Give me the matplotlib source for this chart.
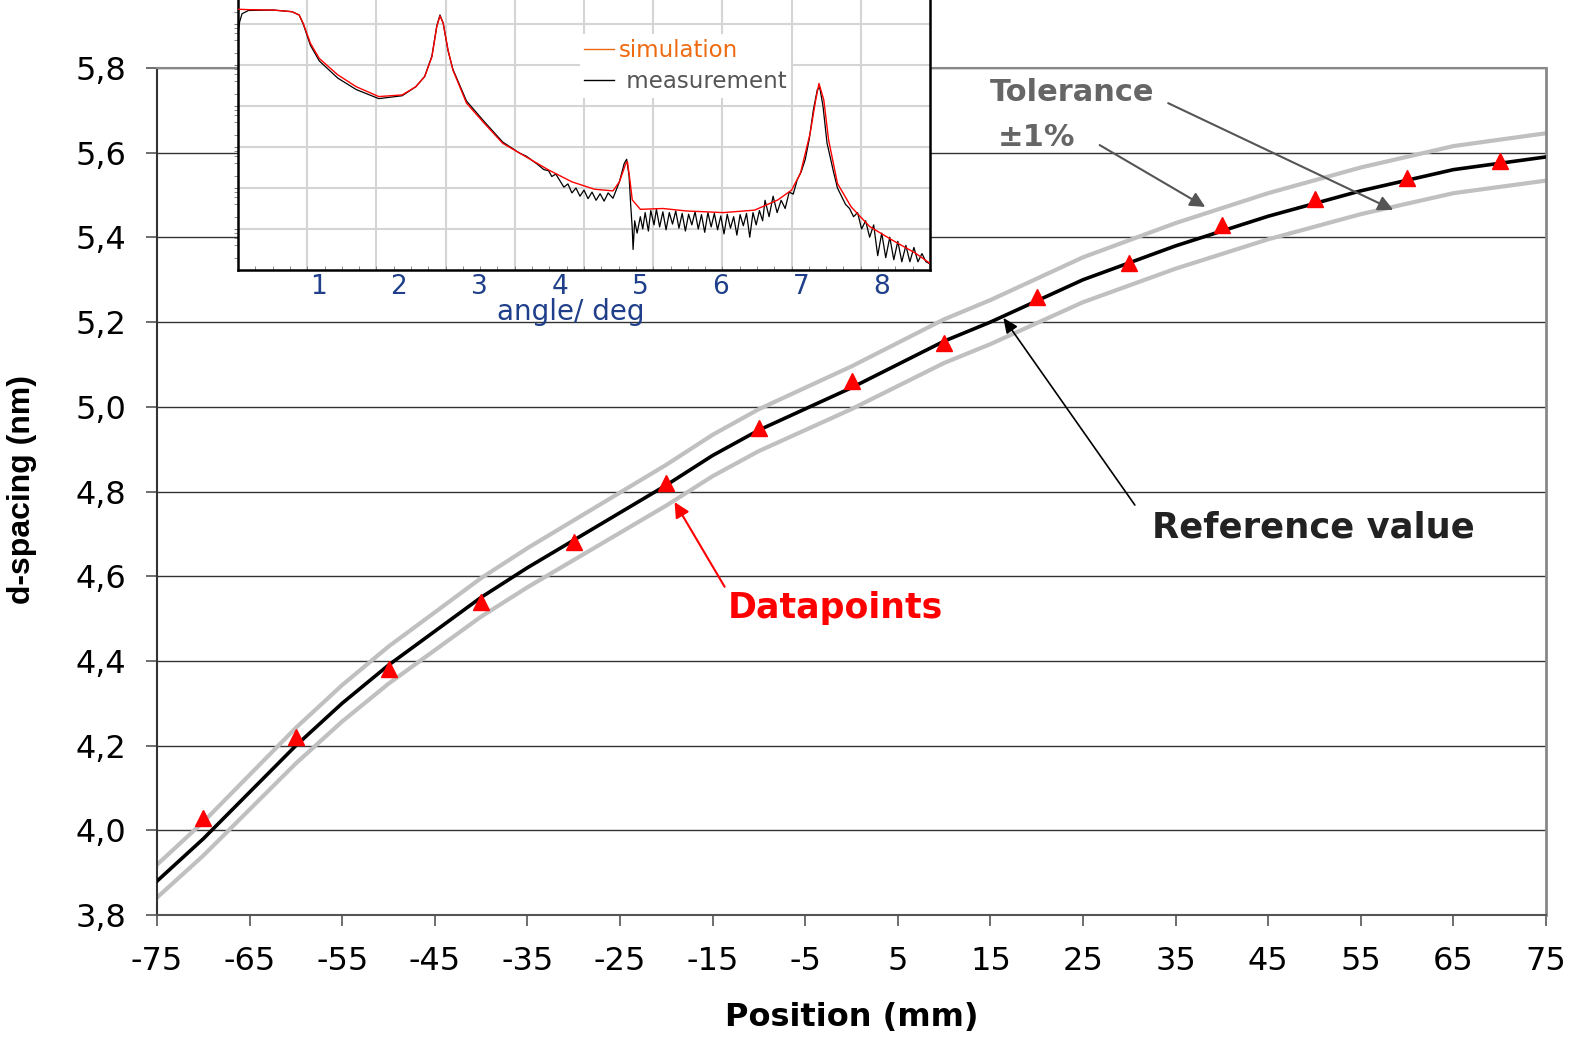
"""
    d-spacing along the mirror position with an inset of the reflectivity scan
"""

import numpy as np
import matplotlib
matplotlib.use("Agg")
from matplotlib import pyplot as plt

plt.rcParams["axes.unicode_minus"] = False

# reference d-spacing (black line), every 5 mm
ref_pos = [-75, -70, -65, -60, -55, -50, -45, -40, -35, -30, -25, -20, -15,
           -10, -5, 0, 5, 10, 15, 20, 25, 30, 35, 40, 45, 50, 55, 60, 65, 70, 75]
ref_d = [3.88, 3.98, 4.09, 4.20, 4.30, 4.39, 4.47, 4.55, 4.62, 4.685, 4.75,
         4.815, 4.885, 4.945, 4.995, 5.045, 5.10, 5.155, 5.20, 5.25, 5.30,
         5.34, 5.38, 5.415, 5.45, 5.48, 5.51, 5.535, 5.56, 5.575, 5.59]
tolerance = 0.01

# measured datapoints (red triangles)
meas_pos = [-70, -60, -50, -40, -30, -20, -10, 0, 10, 20, 30, 40, 50, 60, 70]
meas_d = [4.03, 4.22, 4.38, 4.54, 4.68, 4.82, 4.95, 5.06, 5.15, 5.26, 5.34,
          5.43, 5.49, 5.54, 5.58]

# inset: simulated reflectivity curve (in grid units)
sim_angle = [0.0, 0.13, 0.44, 0.67, 0.76, 0.81, 0.90, 1.01, 1.24, 1.47, 1.75,
             2.04, 2.21, 2.32, 2.41, 2.47, 2.51, 2.55, 2.61, 2.67, 2.84, 3.06,
             3.29, 3.58, 3.86, 4.15, 4.43, 4.66, 4.74, 4.82, 4.84, 4.87, 4.90,
             5.00, 5.28, 5.57, 6.03, 6.42, 6.71, 6.88, 6.99, 7.11, 7.18, 7.22,
             7.28, 7.34, 7.45, 7.62, 7.85, 8.13, 8.42, 8.60]
sim_int = [6.36, 6.35, 6.34, 6.30, 6.22, 6.02, 5.53, 5.16, 4.76, 4.47, 4.23,
           4.27, 4.47, 4.72, 5.20, 5.93, 6.20, 6.02, 5.37, 4.88, 4.07, 3.58,
           3.09, 2.76, 2.44, 2.15, 1.97, 1.93, 2.15, 2.60, 2.64, 2.20, 1.71,
           1.48, 1.50, 1.44, 1.40, 1.46, 1.71, 1.95, 2.36, 3.33, 4.15, 4.55,
           4.15, 3.17, 2.11, 1.54, 1.06, 0.73, 0.41, 0.16]

# inset: measured reflectivity curve (in grid units)
exp_angle = [0.0, 0.02, 0.05, 0.13, 0.44, 0.67, 0.76, 0.81, 0.90, 1.01, 1.24,
             1.47, 1.75, 2.04, 2.21, 2.32, 2.41, 2.47, 2.51, 2.55, 2.61, 2.67,
             2.84, 3.06, 3.29, 3.40, 3.50, 3.58, 3.65, 3.72, 3.80, 3.86, 3.90,
             3.95, 4.00, 4.05, 4.10, 4.15, 4.20, 4.25, 4.30, 4.35, 4.40, 4.45,
             4.50, 4.55, 4.60, 4.66, 4.70, 4.74, 4.80, 4.83, 4.86, 4.88, 4.90,
             4.91, 4.93, 4.96, 5.00, 5.03, 5.06, 5.10, 5.13, 5.17, 5.20, 5.24,
             5.28, 5.32, 5.36, 5.40, 5.44, 5.48, 5.52, 5.56, 5.60, 5.64, 5.68,
             5.72, 5.76, 5.80, 5.84, 5.88, 5.92, 5.96, 6.00, 6.04, 6.08, 6.12,
             6.16, 6.20, 6.24, 6.28, 6.32, 6.36, 6.40, 6.44, 6.48, 6.52, 6.55,
             6.60, 6.65, 6.70, 6.75, 6.80, 6.85, 6.90, 6.95, 7.00, 7.05, 7.10,
             7.15, 7.20, 7.23, 7.27, 7.32, 7.40, 7.45, 7.50, 7.55, 7.60, 7.65,
             7.70, 7.75, 7.80, 7.85, 7.90, 7.95, 8.00, 8.05, 8.10, 8.15, 8.20,
             8.25, 8.30, 8.35, 8.40, 8.45, 8.50, 8.55, 8.60]
exp_int = [5.75, 6.05, 6.25, 6.33, 6.34, 6.30, 6.22, 6.00, 5.48, 5.10, 4.68,
           4.40, 4.18, 4.25, 4.47, 4.72, 5.22, 5.95, 6.22, 6.02, 5.35, 4.90,
           4.12, 3.62, 3.12, 2.98, 2.85, 2.78, 2.68, 2.58, 2.45, 2.42, 2.28,
           2.34, 2.18, 2.02, 2.10, 1.88, 2.00, 1.80, 1.95, 1.74, 1.90, 1.70,
           1.86, 1.68, 1.88, 1.75, 1.95, 2.15, 2.60, 2.70, 2.30, 1.60, 1.00,
           0.50, 1.20, 0.90, 1.30, 1.00, 1.40, 0.95, 1.45, 1.10, 1.48, 1.05,
           1.42, 0.98, 1.40, 1.12, 1.44, 1.02, 1.38, 0.95, 1.36, 1.10, 1.42,
           1.00, 1.35, 0.92, 1.40, 1.05, 1.38, 0.98, 1.32, 0.88, 1.36, 1.02,
           1.30, 0.85, 1.35, 1.08, 1.38, 0.80, 1.40, 1.10, 1.45, 1.20, 1.70,
           1.30, 1.80, 1.40, 1.70, 1.50, 1.90, 1.85, 2.20, 2.40, 2.70, 3.20,
           3.90, 4.40, 4.45, 4.00, 3.10, 2.40, 2.00, 1.80, 1.60, 1.50, 1.30,
           1.40, 1.00, 1.20, 0.80, 1.10, 0.35, 0.90, 0.30, 0.80, 0.25, 0.70,
           0.20, 0.60, 0.20, 0.55, 0.20, 0.40, 0.20, 0.15]

inset_ticks = [1, 2, 3, 4, 5, 6, 7, 8]

W, H = 1574, 1040
fig = plt.figure(figsize=(W/100, H/100), dpi=100)

# ---- main plot
ax = fig.add_axes([157/W, 1 - 915/H, 1389/W, 847/H])
ref = np.array(ref_d)
ax.plot(ref_pos, ref*(1 + tolerance), color="#c0c0c0", lw=3, zorder=2)
ax.plot(ref_pos, ref*(1 - tolerance), color="#c0c0c0", lw=3, zorder=2)
ax.plot(ref_pos, ref, color="black", lw=2.6, zorder=3)
ax.plot(meas_pos, meas_d, ls="none", marker="^", ms=11, color="red",
        markeredgecolor="red", zorder=4)

ax.set_xlim(-75, 75)
ax.set_ylim(3.8, 5.8)
ax.set_xticks(np.arange(-75, 76, 10))
yt = np.arange(3.8, 5.81, 0.2)
ax.set_yticks(yt)
ax.set_yticklabels([("%.1f" % v).replace(".", ",") for v in yt])
ax.yaxis.grid(True, color="#333333", lw=1)
ax.set_axisbelow(True)
ax.tick_params(axis="both", labelsize=23, direction="out", length=8,
               width=1.2, color="#555555", pad=14)
ax.spines["left"].set_color("#333333")
ax.spines["left"].set_linewidth(1.5)
ax.spines["bottom"].set_color("#555555")
ax.spines["bottom"].set_linewidth(1.5)
ax.spines["top"].set_color("#888888")
ax.spines["top"].set_linewidth(1.5)
ax.spines["right"].set_color("#888888")
ax.spines["right"].set_linewidth(2)

ax.set_xlabel("Position (mm)", fontsize=23, fontweight="bold", labelpad=18)
fig.text(22/W, 1 - 490/H, "d-spacing (nm)", rotation=90, fontsize=23,
         fontweight="bold", family=["Liberation Sans", "DejaVu Sans"],
         ha="center", va="center")

# annotations
ax.text(14.9, 5.743, "Tolerance", fontsize=22, fontweight="bold",
        color="#666666", ha="left", va="center")
ax.text(15.8, 5.637, "\u00b11%", fontsize=22, fontweight="bold",
        color="#666666", ha="left", va="center")
arr_grey = dict(arrowstyle="-|>,head_length=0.9,head_width=0.45",
                color="#555555", lw=1.5, shrinkA=0, shrinkB=0)
ax.annotate("", xy=(38.2, 5.472), xytext=(26.8, 5.618), arrowprops=arr_grey)
ax.annotate("", xy=(58.5, 5.465), xytext=(34.2, 5.717), arrowprops=arr_grey)

ax.text(32.4, 4.716, "Reference value", fontsize=25.5, fontweight="bold",
        color="#222222", ha="left", va="center")
ax.annotate("", xy=(16.4, 5.21), xytext=(30.6, 4.768),
            arrowprops=dict(arrowstyle="-|>,head_length=0.9,head_width=0.4",
                            color="black", lw=1.2, shrinkA=0, shrinkB=0))

ax.text(-13.4, 4.525, "Datapoints", fontsize=25, fontweight="bold",
        color="red", ha="left", va="center")
ax.annotate("", xy=(-19.1, 4.775), xytext=(-13.7, 4.575),
            arrowprops=dict(arrowstyle="-|>,head_length=0.9,head_width=0.45",
                            color="red", lw=1.5, shrinkA=0, shrinkB=0))

# ---- inset
axi = fig.add_axes([238/W, 1 - 270/H, 692/W, 270/H])
axi.set_facecolor("white")
axi.set_xlim(0, 8.6)
axi.set_ylim(0, 270/41)
for gx in np.linspace(0, 8.6, 11)[1:-1]:
    axi.axvline(gx, color="#d4d4d4", lw=1.5, zorder=0)
axi.set_yticks(np.arange(1, 7))
axi.set_yticklabels([])
axi.yaxis.grid(True, color="#d4d4d4", lw=1.5)
axi.set_axisbelow(True)
minor_y = [k + np.log10(m) for k in range(0, 7) for m in (2, 4, 6, 8)
           if k + np.log10(m) < 270/41]
axi.set_yticks(minor_y, minor=True)
axi.tick_params(axis="y", which="both", direction="out", length=3,
                color="#777777")
axi.set_xticks(inset_ticks)
axi.set_xticks(np.arange(0.215, 8.6, 0.215), minor=True)
axi.tick_params(axis="x", which="major", length=0, labelsize=19,
                labelcolor="#1f3f8a", pad=3)
axi.tick_params(axis="x", which="minor", direction="in", length=3,
                color="#777777")
axi.spines["top"].set_visible(False)
for s in ("left", "bottom", "right"):
    axi.spines[s].set_color("black")
    axi.spines[s].set_linewidth(1.8)

axi.plot(exp_angle, exp_int, color="black", lw=0.9, label="measurement",
         zorder=3)
axi.plot(sim_angle, sim_int, color="red", lw=1.0, label="simulation",
         zorder=4)

h_sim, = axi.plot([], [], color="#ee6a10", lw=1)
h_exp, = axi.plot([], [], color="black", lw=1)
leg = axi.legend([h_sim, h_exp], ["simulation", " measurement"], loc="upper left",
                 bbox_to_anchor=(0.477, 0.915), fontsize=16.5, frameon=True,
                 framealpha=1, facecolor="white", edgecolor="none",
                 handlelength=1.3, handletextpad=0.2, borderpad=0.2,
                 labelspacing=0.35, fancybox=False)
leg.get_texts()[0].set_color("#ee6a10")
leg.get_texts()[1].set_color("#555555")

fig.text(571/W, 1 - 312/H, "angle/ deg", fontsize=20, color="#1f3f8a",
         ha="center", va="center")

fig.savefig("out.png", dpi=100)
